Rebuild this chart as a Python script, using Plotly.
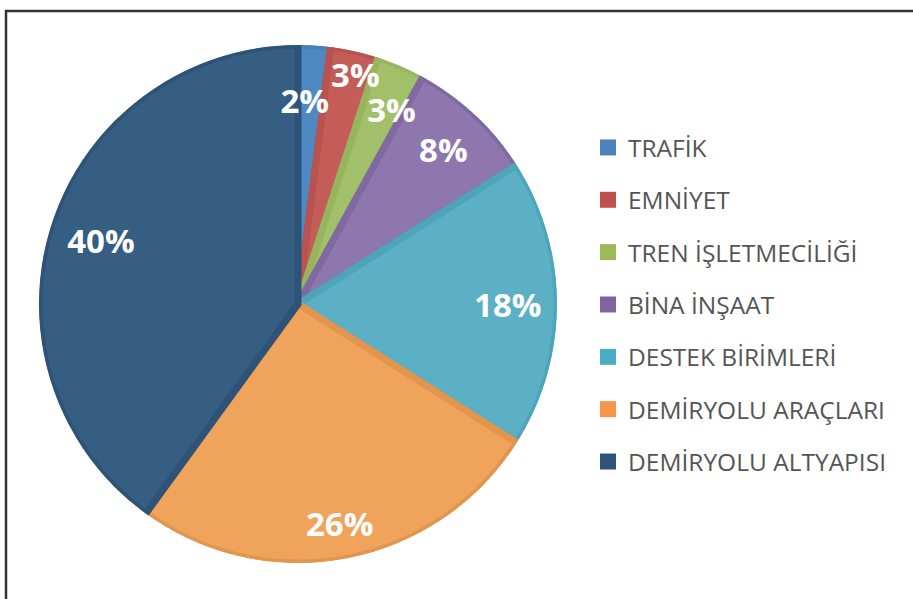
import plotly.graph_objects as go

labels = ["TRAFİK", "EMNİYET", "TREN İŞLETMECİLİĞİ", "BİNA İNŞAAT",
          "DESTEK BİRİMLERİ", "DEMİRYOLU ARAÇLARI", "DEMİRYOLU ALTYAPISI"]
values = [2, 3, 3, 8, 18, 26, 40]
fill_colors = ["#5088C2", "#C45C58", "#A2C06A", "#8D77AC", "#5BB0C6", "#F0A35A", "#365D82"]
edge_colors = ["#4A7EB5", "#B8534F", "#97B45E", "#7F69A0", "#4EA4BA", "#E2954F", "#2E5378"]
legend_colors = ["#4F81BD", "#C0504D", "#9BBB59", "#8064A2", "#4BACC6", "#F79646", "#2F5379"]
# label placement tweaks (style only): radial fraction and angular nudge in degrees
label_radius = [0.79, 0.915, 0.835, 0.82, 0.81, 0.86, 0.80]
label_dtheta = [-1.7, 1.4, 2.2, 0, 0, 0, 0]

W, H = 913, 599
CX, CY, R = 298, 304, 259          # pie centre / radius in pixels (layout)
dom = dict(x=[(CX - R) / W, (CX + R) / W], y=[(H - CY - R) / H, (H - CY + R) / H])
TXT_DY = 5                          # nudge labels down to centre glyphs visually
dom_txt = dict(x=dom["x"], y=[(H - CY - TXT_DY - R) / H, (H - CY - TXT_DY + R) / H])

total = sum(values)
mid_angles, widths = [], []
acc = 0.0
for v in values:
    mid_angles.append((acc + v / 2) / total * 360)
    widths.append(v / total * 360)
    acc += v
label_angles = [a + d for a, d in zip(mid_angles, label_dtheta)]
pct_text = [f"{round(v / total * 100)}%" for v in values]

fig = go.Figure()
fig.add_trace(go.Barpolar(
    r=[1] * len(values), theta=mid_angles, width=widths, base=0,
    marker=dict(color=fill_colors, line=dict(color=edge_colors, width=7)),
    customdata=labels, hovertemplate="%{customdata}<extra></extra>",
    showlegend=False, subplot="polar",
))
fig.add_trace(go.Scatterpolar(
    r=label_radius, theta=label_angles, mode="text", text=pct_text,
    textfont=dict(family="Open Sans", size=33, color="white", weight="bold"),
    showlegend=False, hoverinfo="skip", subplot="polar2",
))
for lab, col in zip(labels, legend_colors):
    fig.add_trace(go.Scatter(
        x=[None], y=[None], mode="markers", name=lab, legendgroup=lab,
        marker=dict(symbol="square", size=16, color=col),
    ))

polar_common = dict(bgcolor="rgba(0,0,0,0)", bargap=0,
                    angularaxis=dict(visible=False, rotation=90, direction="clockwise",
                                     showgrid=False),
                    radialaxis=dict(visible=False, range=[0, 1], showgrid=False))
fig.update_layout(
    width=W, height=H, margin=dict(l=0, r=0, t=0, b=0),
    paper_bgcolor="white", plot_bgcolor="white",
    xaxis=dict(visible=False), yaxis=dict(visible=False),
    polar=dict(domain=dom, **polar_common),
    polar2=dict(domain=dom_txt, **polar_common),
    legend=dict(x=588 / W, y=(H - 125) / H, xanchor="left", yanchor="top",
                font=dict(family="Open Sans", size=24.5, color="#555555"),
                tracegroupgap=17.5, itemclick=False, bgcolor="rgba(0,0,0,0)"),
    shapes=[dict(type="rect", xref="paper", yref="paper",
                 x0=6 / W, x1=1.05, y0=-0.05, y1=(H - 11) / H,
                 line=dict(color="#333333", width=2.5))],
)
fig.write_html("out.html", post_script="document.body.style.margin='0';",
               config={"displayModeBar": False})
